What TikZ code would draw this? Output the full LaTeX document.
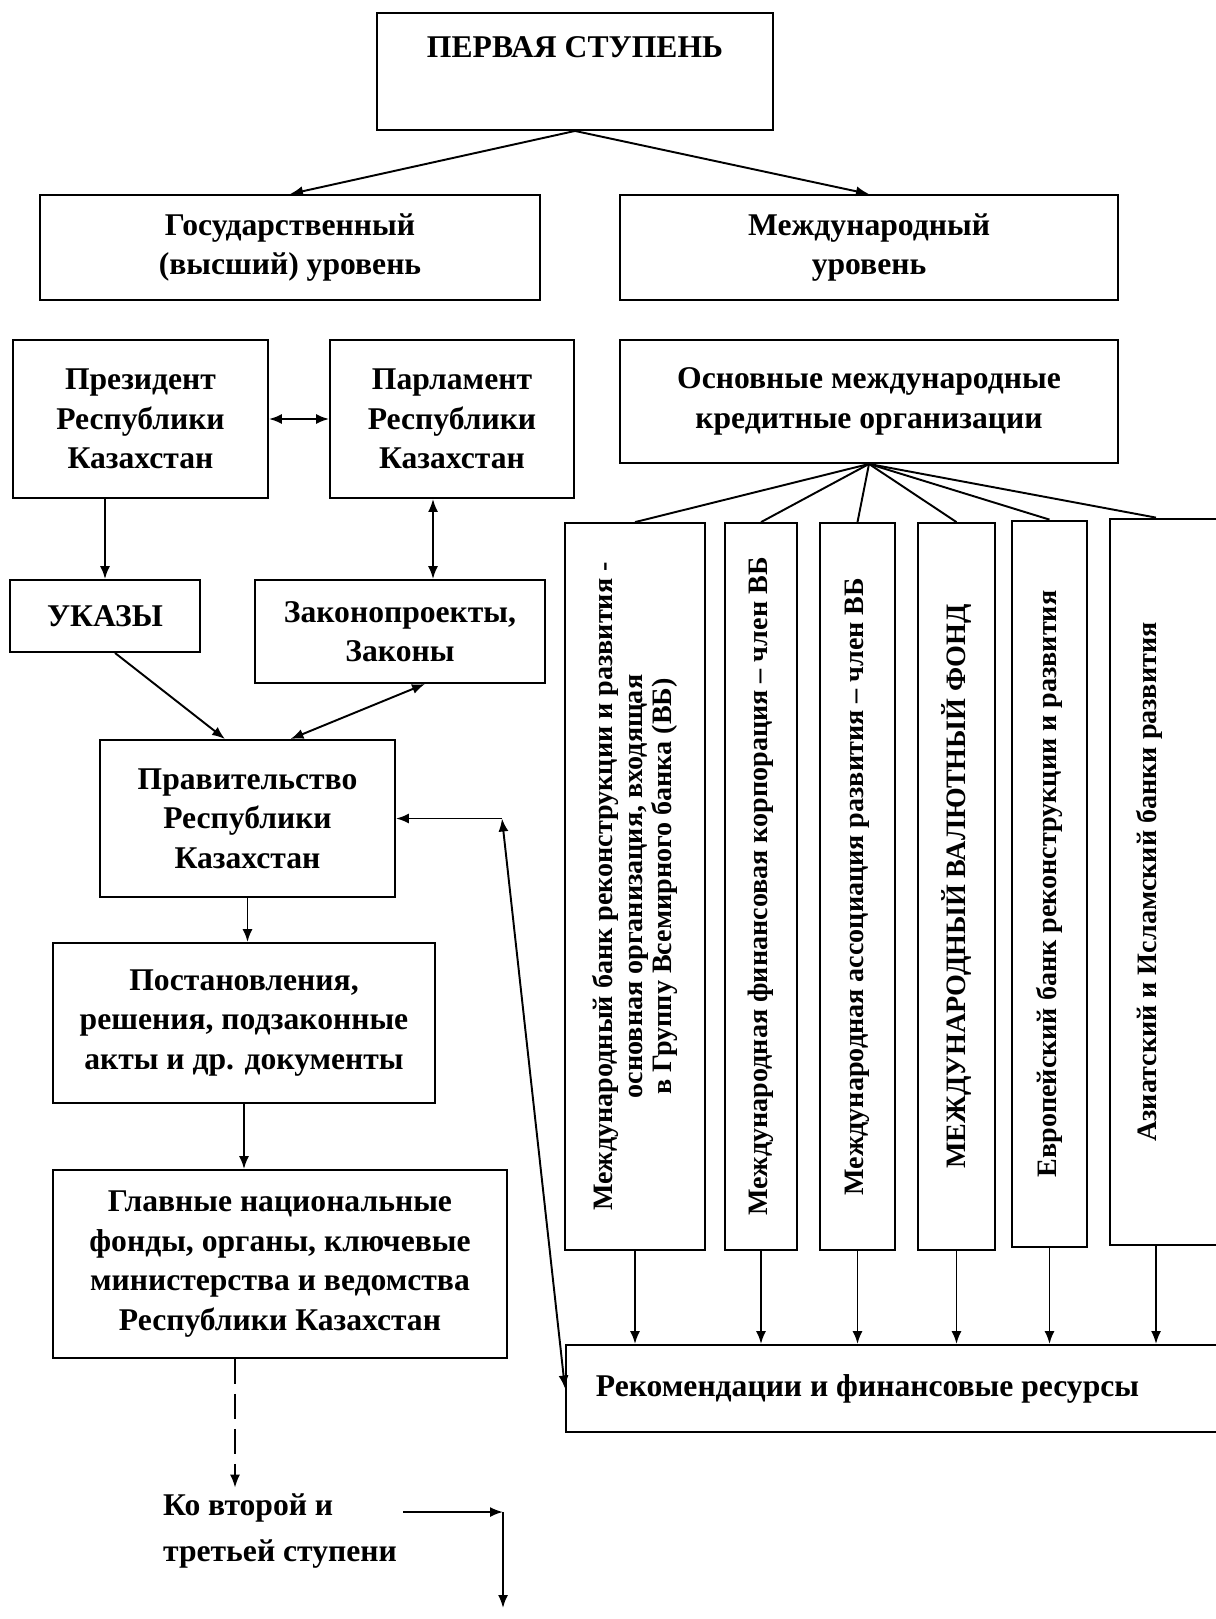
\documentclass[tikz,border=0pt]{standalone}
\usepackage{fontspec}
\setmainfont{Liberation Serif}
\usetikzlibrary{arrows.meta}

\begin{document}
\begin{tikzpicture}[x=0.02cm,y=-0.02cm,>={Latex[length=2.6mm,width=2mm]},every node/.style={text centered},
  box/.style={draw,line width=1.1pt,align=center,inner sep=0pt,font=\bfseries\fontsize{18}{22.5}\selectfont},
  vbox/.style={box,rotate=90,minimum width=14.54cm,font=\bfseries\fontsize{16}{17}\selectfont},
  link/.style={line width=1.1pt}]

\useasboundingbox (0,0) rectangle (1215,1619);

\node [box,minimum width=7.92cm,text height=0.88cm,text depth=1.46cm,anchor=base] (first) at (575,57) {ПЕРВАЯ СТУПЕНЬ};

\node [box,minimum width=10cm,minimum height=2.1cm] (gos) at (290,247.5) {Государственный\\(высший) уровень};
\node [box,minimum width=9.96cm,minimum height=2.1cm] (mezh) at (869,247.5) {Международный\\уровень};

\node [box,minimum width=5.1cm,minimum height=3.16cm] (pres) at (140.5,419) {Президент\\Республики\\Казахстан};
\node [box,minimum width=4.88cm,minimum height=3.16cm] (parl) at (452,419) {Парламент\\Республики\\Казахстан};
\node [box,minimum width=9.96cm,minimum height=2.46cm] (osn) at (869,401.5) {Основные международные\\кредитные организации};

\node [box,minimum width=3.8cm,minimum height=1.44cm] (ukazy) at (105,616) {УКАЗЫ};
\node [box,minimum width=5.8cm,minimum height=2.06cm] (zakon) at (400,631.5) {Законопроекты,\\Законы};
\node [box,minimum width=5.9cm,minimum height=3.14cm] (prav) at (247.5,818.5) {Правительство\\Республики\\Казахстан};
\node [box,minimum width=7.64cm,minimum height=3.2cm] (post) at (244,1023) {Постановления,\\решения, подзаконные\\акты и др. документы};
\node [box,minimum width=9.08cm,minimum height=3.76cm] (glav) at (280,1264) {Главные национальные\\фонды, органы, ключевые\\министерства и ведомства\\Республики Казахстан};

% international organisations, text bottom to top
\node [vbox,minimum height=2.8cm] (ibrd) at (635,886.5) {Международный банк реконструкции и развития -\\основная организация, входящая\\в Группу Всемирного банка (ВБ)};
\node [vbox,minimum height=1.44cm] (ifc) at (761,886.5) {Международная финансовая корпорация – член ВБ};
\node [vbox,minimum height=1.5cm] (ida) at (857.5,886.5) {Международная ассоциация развития – член ВБ};
\node [vbox,minimum height=1.54cm] (imf) at (956.5,886.5) {МЕЖДУНАРОДНЫЙ ВАЛЮТНЫЙ ФОНД};
\node [vbox,minimum height=1.5cm] (ebrd) at (1049.5,884) {Европейский банк реконструкции и развития};
\node [vbox,text height=0.92cm,text depth=1.68cm] (asia) at (1175,882) {Азиатский и Исламский банки развития};

\node [box,minimum height=1.74cm,anchor=west] (rec) at (565,1388.5) {\makebox[13.5cm][l]{\hspace{0.6cm}Рекомендации и финансовые ресурсы}};

\node [font=\bfseries\fontsize{18}{26}\selectfont,align=left] (ko) at (280,1531) {Ко второй и\\третьей ступени};

\draw[->,link] (first.south) -- (gos.north);
\draw[->,link] (first.south) -- (mezh.north);

\draw[<->,link] (pres.east) -- (parl.west);
\draw[->,link] (ukazy.north |- pres.south) -- (ukazy.north);
\draw[<->,link] ([xshift=-0.38cm]parl.south) -- ([xshift=-0.38cm]parl.south |- zakon.north);
\draw[->,link] ([xshift=0.2cm]ukazy.south) -- ([xshift=-0.45cm]prav.north);
\draw[<->,link] ([xshift=0.86cm]prav.north) -- ([xshift=0.5cm]zakon.south);
\draw[->,link] (prav.south) -- (prav.south |- post.north);
\draw[->,link] (post.south) -- (post.south |- glav.north);
\draw[->,link,dash pattern=on 0.5cm off 0.2cm] ([xshift=-0.9cm]glav.south) -- ([xshift=-0.9cm]glav.south |- ko.north);

\foreach \b in {ibrd,ifc,ida,imf,ebrd} {
  \draw[link] (osn.south) -- (\b.east);
  \draw[->,link] (\b.west) -- (\b.west |- rec.north);
}
\draw[link] (osn.south) -- (asia.east -| asia.base);
\draw[->,link] (asia.west -| asia.base) -- (asia.base |- rec.north);

\coordinate (bend) at (502,818.5);
\draw[<->,link] (bend) -- (rec.west);
\draw[->,link] (bend) -- (prav.east);

\coordinate (turn) at (503,1512);
\coordinate (stepdown) at (503,1608);
\draw[->,link] (turn -| ko.east) -- (turn);
\draw[->,link] (turn) -- (stepdown);

\end{tikzpicture}
\end{document}
